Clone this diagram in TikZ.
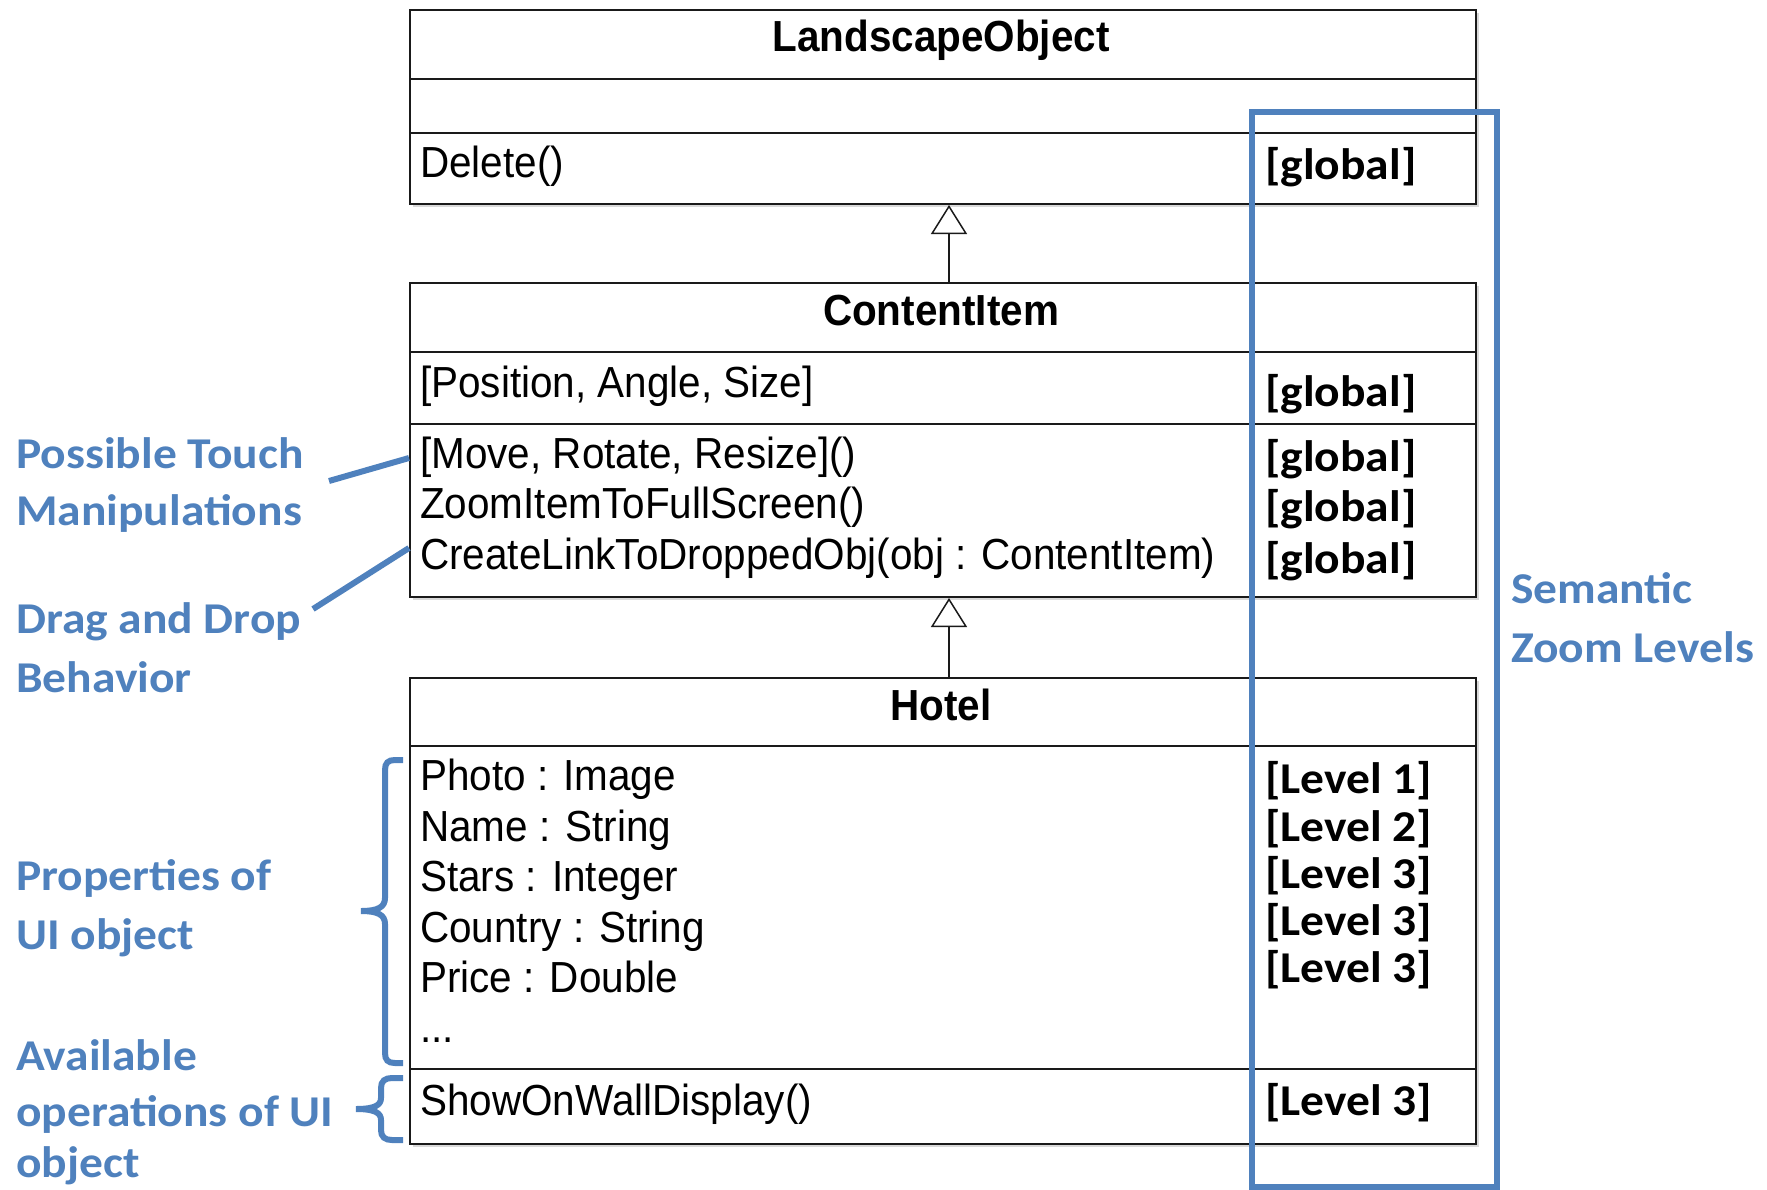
\documentclass[tikz,border=0pt]{standalone}
\usepackage{fontspec}
\setmainfont[FakeStretch=0.93]{Liberation Sans}
\newfontfamily\notefont[FakeStretch=1.08]{Carlito}
\usetikzlibrary{arrows.meta,shadows}
\definecolor{zoomblue}{HTML}{4F81BD}
\definecolor{umlline}{HTML}{1A1A1A}

\begin{document}
\begin{tikzpicture}[x=1pt,y=-1pt,
  umlbox/.style={draw=umlline, line width=2pt, fill=white, anchor=north west, inner sep=0pt,
    drop shadow={opacity=0.3, shadow xshift=3pt, shadow yshift=-3pt}},
  compsep/.style={draw=umlline, line width=2pt},
  classname/.style={font=\fontsize{43.5}{52}\selectfont\bfseries, anchor=base, inner sep=0pt},
  member/.style={font=\fontsize{43.5}{52}\selectfont, anchor=base west, inner sep=0pt},
  zoomtag/.style={font=\notefont\bfseries\fontsize{44}{57}\selectfont, anchor=base west, inner sep=0pt},
  noteline/.style={font=\notefont\bfseries\fontsize{44}{57}\selectfont, text=zoomblue, anchor=base west, inner sep=0pt},
  generalization/.style={draw=umlline, line width=1.5pt, -{Triangle[open, length=29pt, width=36pt, line width=1.5pt]}},
  pointer/.style={draw=zoomblue, line width=6pt},
  bracket/.style={draw=zoomblue, line width=6pt},
  zoomframe/.style={draw=zoomblue, line width=6pt, anchor=north west, inner sep=0pt}
]
\useasboundingbox (0,0) rectangle (1767,1189);

% ---------- class LandscapeObject ----------
\node[umlbox, minimum width=1066pt, minimum height=194pt] (lo) at (409,9) {};
\draw[compsep] (lo.west |- 0,79) -- (lo.east |- 0,79);
\draw[compsep] (lo.west |- 0,133) -- (lo.east |- 0,133);
\node[classname] (lo-name) at (941,51) {LandscapeObject};
\node[member] (lo-op1) at (420,177) {Delete()};
\node[zoomtag] (lo-tag1) at (1265,179) {[global]};

% ---------- class ContentItem ----------
\node[umlbox, minimum width=1066pt, minimum height=314pt] (ci) at (409,282) {};
\draw[compsep] (ci.west |- 0,352) -- (ci.east |- 0,352);
\draw[compsep] (ci.west |- 0,424) -- (ci.east |- 0,424);
\node[classname] (ci-name) at (941,325) {ContentItem};
\node[member] (ci-attr1) at (420,397) {[Position, Angle, Size]};
\node[zoomtag] (ci-tag1) at (1265,406) {[global]};
\node[member] (ci-op1) at (420,468) {[Move, Rotate, Resize]()};
\node[member] (ci-op2) at (420,518) {ZoomItemToFullScreen()};
\node[member] (ci-op3) at (420,569) {CreateLinkToDroppedObj(obj : ContentItem)};
\node[zoomtag] (ci-tag2) at (1265,471) {[global]};
\node[zoomtag] (ci-tag3) at (1265,521) {[global]};
\node[zoomtag] (ci-tag4) at (1265,573) {[global]};

% ---------- class Hotel ----------
\node[umlbox, minimum width=1066pt, minimum height=466pt] (ho) at (409,677) {};
\draw[compsep] (ho.west |- 0,746) -- (ho.east |- 0,746);
\draw[compsep] (ho.west |- 0,1069) -- (ho.east |- 0,1069);
\node[classname] (ho-name) at (941,720) {Hotel};
\node[member] (ho-attr1) at (420,790) {Photo : Image};
\node[member] (ho-attr2) at (420,841) {Name : String};
\node[member] (ho-attr3) at (420,891) {Stars : Integer};
\node[member] (ho-attr4) at (420,942) {Country : String};
\node[member] (ho-attr5) at (420,992) {Price : Double};
\node[member] (ho-attr6) at (420,1042) {...};
\node[zoomtag] (ho-tag1) at (1265,793) {[Level 1]};
\node[zoomtag] (ho-tag2) at (1265,841) {[Level 2]};
\node[zoomtag] (ho-tag3) at (1265,888) {[Level 3]};
\node[zoomtag] (ho-tag4) at (1265,935) {[Level 3]};
\node[zoomtag] (ho-tag5) at (1265,982) {[Level 3]};
\node[member] (ho-op1) at (420,1115) {ShowOnWallDisplay()};
\node[zoomtag] (ho-tag6) at (1265,1115) {[Level 3]};

% ---------- inheritance ----------
\draw[generalization] ([xshift=6pt]ci.north) -- ([xshift=6pt]lo.south);
\draw[generalization] ([xshift=6pt]ho.north) -- ([xshift=6pt]ci.south);

% ---------- semantic zoom frame ----------
\node[zoomframe, minimum width=245pt, minimum height=1075pt] (zf) at (1249,109) {};
\node[noteline] (zf-l1) at (1511,603) {Semantic};
\node[noteline] (zf-l2) at (1511,662) {Zoom Levels};

% ---------- side annotations ----------
\node[noteline] (touch-l1) at (16,468) {Possible Touch};
\node[noteline] (touch-l2) at (16,525) {Manipulations};
\coordinate (touch-a) at (329,481);
\coordinate (touch-b) at (ci.west |- 0,458);
\draw[pointer] (touch-a) -- (touch-b);

\node[noteline] (drag-l1) at (16,633) {Drag and Drop};
\node[noteline] (drag-l2) at (16,692) {Behavior};
\coordinate (drag-a) at (313,609);
\coordinate (drag-b) at (ci.west |- 0,548);
\draw[pointer] (drag-a) -- (drag-b);

\node[noteline] (prop-l1) at (16,890) {Properties of};
\node[noteline] (prop-l2) at (16,949) {UI object};
\draw[bracket] (403,760) -- (395,760) .. controls (388,760) and (385,763) .. (385,770)
  -- (385,898) .. controls (385,907) and (378,911) .. (361,911)
  .. controls (378,911) and (385,915) .. (385,924)
  -- (385,1053) .. controls (385,1060) and (388,1063) .. (395,1063) -- (403,1063);

\node[noteline] (ops-l1) at (16,1070) {Available};
\node[noteline] (ops-l2) at (16,1126) {operations of UI};
\node[noteline] (ops-l3) at (16,1177) {object};
\draw[bracket] (403,1078) -- (392,1078) .. controls (385,1078) and (381,1081) .. (381,1088)
  -- (381,1098) .. controls (381,1105) and (375,1109) .. (356,1109)
  .. controls (375,1109) and (381,1113) .. (381,1120)
  -- (381,1130) .. controls (381,1137) and (385,1140) .. (392,1140) -- (403,1140);
\end{tikzpicture}
\end{document}
